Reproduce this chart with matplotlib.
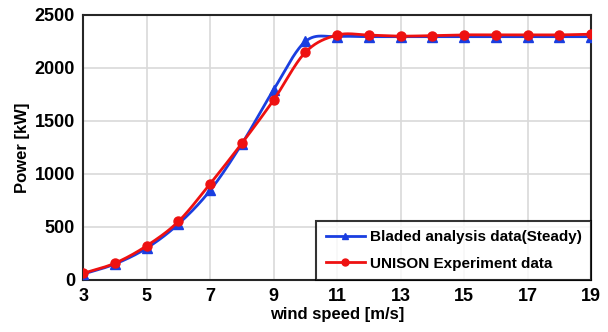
import numpy as np
import matplotlib.pyplot as plt

plt.rcParams['font.family'] = ['Liberation Sans', 'DejaVu Sans']
plt.rcParams['font.weight'] = 'bold'

# wind speed [m/s]
wind = [3, 4, 5, 6, 7, 8, 9, 10, 11, 12, 13, 14, 15, 16, 17, 18, 19]
# Bladed steady-state power [kW]
bladed = [55, 150, 300, 528, 845, 1285, 1795, 2250, 2295, 2295, 2295, 2295, 2295, 2295, 2295, 2295, 2295]
# UNISON measured power [kW]
unison = [62, 158, 322, 552, 908, 1290, 1698, 2148, 2310, 2310, 2300, 2305, 2312, 2312, 2312, 2312, 2318]

label_bladed = 'Bladed analysis data(Steady)'
label_unison = 'UNISON Experiment data'


def smooth(x, y, n=30):
    # Catmull-Rom curve through the points (spreadsheet-style smoothed line)
    x = np.asarray(x, float)
    y = np.asarray(y, float)
    px = np.concatenate([[2 * x[0] - x[1]], x, [2 * x[-1] - x[-2]]])
    py = np.concatenate([[2 * y[0] - y[1]], y, [2 * y[-1] - y[-2]]])
    xs, ys = [], []
    t = np.linspace(0, 1, n, endpoint=False)
    for i in range(1, len(px) - 2):
        for p, out in ((px, xs), (py, ys)):
            p0, p1, p2, p3 = p[i - 1], p[i], p[i + 1], p[i + 2]
            out.extend(0.5 * ((2 * p1) + (-p0 + p2) * t
                              + (2 * p0 - 5 * p1 + 4 * p2 - p3) * t ** 2
                              + (-p0 + 3 * p1 - 3 * p2 + p3) * t ** 3))
    xs.append(x[-1])
    ys.append(y[-1])
    return np.array(xs), np.array(ys)


fig, ax = plt.subplots(figsize=(6.08, 3.32), dpi=100)
fig.subplots_adjust(left=0.137, right=0.972, top=0.955, bottom=0.157)

blue = '#1a3ee0'
red = '#ee1111'

sx, sy = smooth(wind, bladed)
ax.plot(sx, sy, color=blue, lw=2, zorder=3)
ax.plot(wind, bladed, ls='none', marker='^', ms=6.5, color=blue, zorder=4)
sx, sy = smooth(wind, unison)
ax.plot(sx, sy, color=red, lw=2, zorder=5)
ax.plot(wind, unison, ls='none', marker='o', ms=6.5, color=red, zorder=6)

# legend handles: line with marker
ax.plot([], [], color=blue, lw=2, marker='^', ms=5, label=label_bladed)
ax.plot([], [], color=red, lw=2, marker='o', ms=5, label=label_unison)

ax.set_xlim(3, 19)
ax.set_ylim(0, 2500)
ax.set_xticks(np.arange(3, 20, 2))
ax.set_yticks(np.arange(0, 2501, 500))
ax.grid(True, color='#d9d9d9', lw=1.2)
ax.set_axisbelow(True)
ax.tick_params(length=0, labelsize=13, pad=6)
for s in ax.spines.values():
    s.set_color('#262626')
    s.set_linewidth(1.5)

ax.set_xlabel('wind speed [m/s]', fontsize=12, fontweight='bold', labelpad=1)
ax.set_ylabel('Power [kW]', fontsize=12, fontweight='bold', labelpad=3)

leg = ax.legend(loc='lower right', bbox_to_anchor=(1.0, 0.0), fontsize=11,
                frameon=True, fancybox=False, edgecolor='black',
                borderaxespad=0, handlelength=2.6, handletextpad=0.3,
                labelspacing=0.8, borderpad=0.6)
leg.get_frame().set_linewidth(1.5)
leg.set_zorder(10)

fig.savefig('out.png', dpi=100)
